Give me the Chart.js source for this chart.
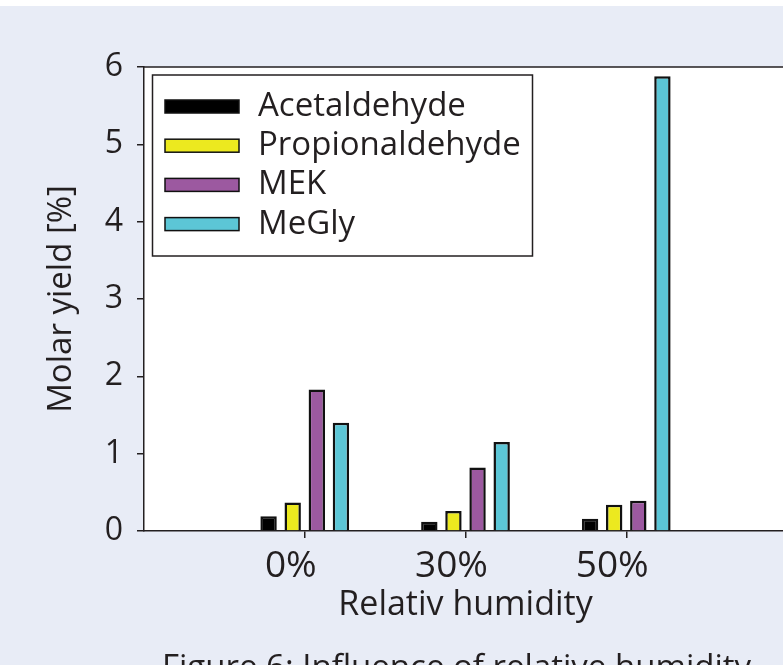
<!DOCTYPE html>
<html>
<head>
<meta charset="utf-8">
<script src="https://cdn.jsdelivr.net/npm/chart.js@4/dist/chart.umd.min.js"></script>
<style>
    html, body { margin: 0; padding: 0; }
    body {
        width: 783px; height: 665px; overflow: hidden; position: relative;
        background: #e8ecf6; font-family: 'Open Sans', sans-serif;
    }
    .topstrip { position: absolute; left: 0; top: 0; width: 783px; height: 6px; background: #fff; }
    .wrap { position: absolute; left: 0; top: 0; width: 787px; height: 665px; }
    .caption {
        position: absolute; left: 162px; top: 649px; white-space: nowrap;
        font-size: 33px; line-height: 1; color: #231f20;
    }
</style>
</head>
<body>
<div class="topstrip"></div>
<div class="wrap"><canvas id="chart"></canvas></div>
<div class="caption">Figure 6: Influence of relative humidity</div>
<script>
const categories = ['0%', '30%', '50%'];
const seriesNames = ['Acetaldehyde', 'Propionaldehyde', 'MEK', 'MeGly'];
const acetaldehyde = [0.19, 0.12, 0.16];
const propionaldehyde = [0.37, 0.26, 0.34];
const mek = [1.83, 0.82, 0.39];
const megly = [1.40, 1.15, 5.88];
const yTicks = [0, 1, 2, 3, 4, 5, 6];

const colors = ['#000000', '#ece91f', '#9c59a0', '#5cc6d6'];
const ink = '#231f20';

Chart.defaults.font.family = "'Open Sans', sans-serif";
Chart.defaults.color = ink;

const toPoints = values => values.map((v, i) => ({ x: i, y: v }));

const plotFrame = {
    id: 'plotFrame',
    beforeDraw(chart) {
        const { ctx, chartArea: a } = chart;
        ctx.save();
        ctx.fillStyle = '#ffffff';
        ctx.fillRect(a.left, a.top, a.right - a.left, a.bottom - a.top);
        ctx.restore();
    },
    afterDraw(chart) {
        const { ctx, chartArea: a } = chart;
        ctx.save();
        ctx.strokeStyle = ink;
        ctx.lineWidth = 1.5;
        ctx.beginPath();
        ctx.moveTo(a.left, a.top);
        ctx.lineTo(a.right, a.top);
        ctx.stroke();
        ctx.restore();
    }
};

// legend drawn inside the plot, top left
const boxLegend = {
    id: 'boxLegend',
    afterDraw(chart) {
        const ctx = chart.ctx;
        ctx.save();
        ctx.fillStyle = '#ffffff';
        ctx.fillRect(152.5, 75, 380, 181);
        ctx.strokeStyle = ink;
        ctx.lineWidth = 1.5;
        ctx.strokeRect(152.5, 75, 380, 181);
        ctx.font = "33px 'Open Sans'";
        ctx.textBaseline = 'middle';
        chart.data.datasets.forEach((ds, i) => {
            const y = 106.5 + i * 39.2;
            ctx.fillStyle = ds.backgroundColor;
            ctx.fillRect(165, y - 6.5, 74, 13);
            ctx.strokeStyle = '#111';
            ctx.lineWidth = 1.5;
            ctx.strokeRect(165, y - 6.5, 74, 13);
            ctx.fillStyle = ink;
            ctx.fillText(ds.label, 258, y);
        });
        ctx.restore();
    }
};

const seriesData = [acetaldehyde, propionaldehyde, mek, megly];

new Chart(document.getElementById('chart'), {
    type: 'bar',
    data: {
        datasets: seriesData.map((values, i) => ({
            label: seriesNames[i],
            data: toPoints(values),
            backgroundColor: colors[i],
            borderColor: '#111111',
            borderWidth: 2.5,
            categoryPercentage: 0.6,
            barPercentage: 0.68
        }))
    },
    options: {
        responsive: true,
        maintainAspectRatio: false,
        animation: false,
        layout: { padding: { top: 67, left: 0, right: 0, bottom: 0 } },
        plugins: {
            legend: { display: false },
            tooltip: { enabled: false }
        },
        scales: {
            x: {
                type: 'linear',
                min: -1,
                max: 3,
                offset: false,
                afterBuildTicks: scale => {
                    scale.ticks = categories.map((_, i) => ({ value: i }));
                },
                afterFit: scale => { scale.height = 134; },
                ticks: {
                    font: { size: 37 },
                    padding: 6,
                    labelOffset: -14,
                    maxRotation: 0,
                    callback: v => categories[v] ?? ''
                },
                grid: {
                    offset: false,
                    drawOnChartArea: false,
                    tickLength: 7,
                    tickColor: ink,
                    lineWidth: 1.5
                },
                border: { color: ink, width: 1.5 },
                title: {
                    display: true,
                    text: 'Relativ humidity',
                    font: { size: 34 },
                    padding: { top: 0, bottom: 39 }
                }
            },
            y: {
                min: 0,
                max: 6,
                afterBuildTicks: scale => {
                    scale.ticks = yTicks.map(v => ({ value: v }));
                },
                afterFit: scale => { scale.width = 144; },
                ticks: {
                    font: { size: 32 },
                    padding: 14
                },
                grid: {
                    drawOnChartArea: false,
                    tickLength: 7,
                    tickColor: ink,
                    lineWidth: 1.5
                },
                border: { color: ink, width: 1.5 },
                title: {
                    display: true,
                    text: 'Molar yield [%]',
                    font: { size: 33 },
                    padding: { top: 42, bottom: 0 }
                }
            }
        }
    },
    plugins: [plotFrame, boxLegend]
});
</script>
</body>
</html>
